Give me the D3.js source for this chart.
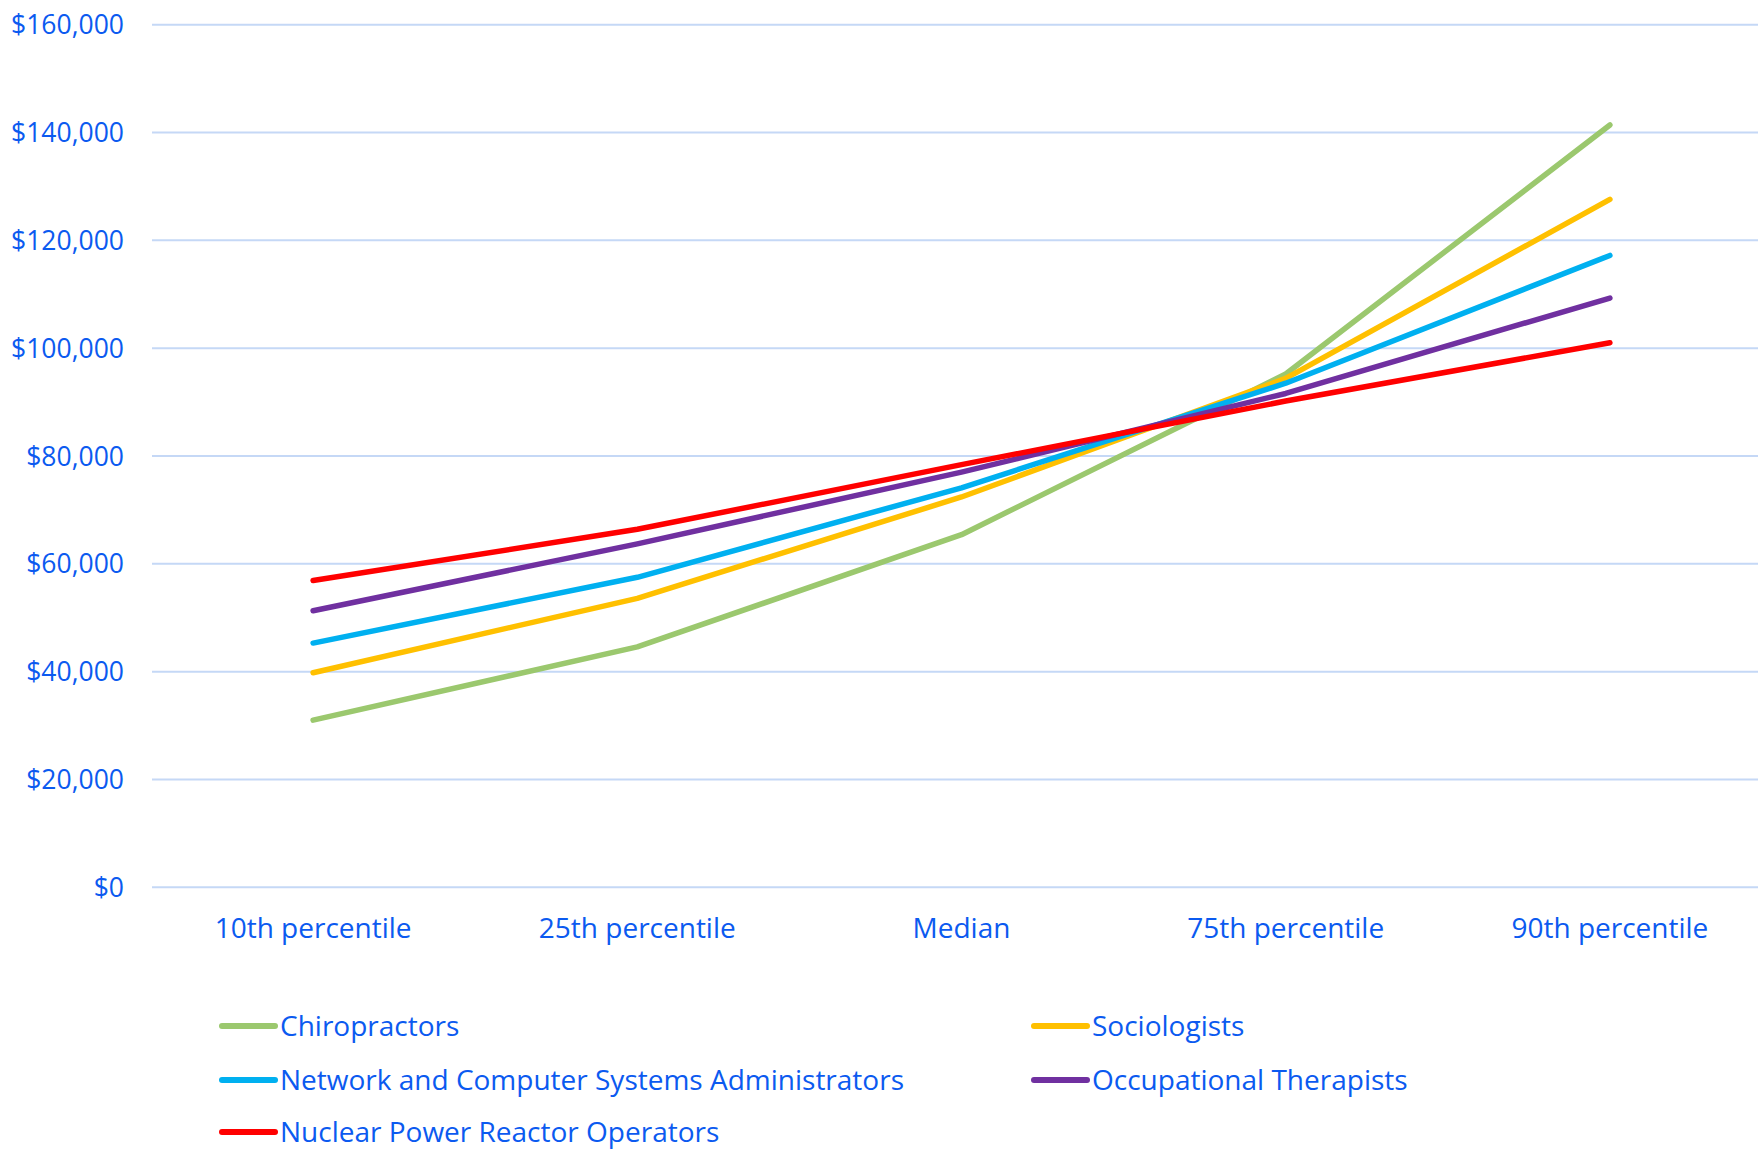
<!DOCTYPE html>
<html>
<head>
<meta charset="utf-8">
<script src="https://cdn.jsdelivr.net/npm/d3@7"></script>
<style>
  html, body { margin: 0; padding: 0; background: #ffffff; }
  svg { display: block; }
  text { font-family: "Open Sans", "Noto Sans", sans-serif; fill: #0b5af0; }
</style>
</head>
<body>
<svg id="chart" width="1758" height="1150"></svg>
<script>
// Wage percentiles by occupation (annual, USD)
const categories = ["10th percentile", "25th percentile", "Median", "75th percentile", "90th percentile"];

const seriesNames = [
  "Chiropractors",
  "Sociologists",
  "Network and Computer Systems Administrators",
  "Occupational Therapists",
  "Nuclear Power Reactor Operators"
];

const chiropractors = [31000, 44600, 65400, 95200, 141400];
const sociologists  = [39800, 53600, 72400, 94400, 127600];
const networkAdmins = [45300, 57500, 74100, 93500, 117200];
const occTherapists = [51300, 63700, 77000, 91600, 109300];
const nuclearOps    = [56900, 66400, 78400, 90200, 101000];

const yTicks = [0, 20000, 40000, 60000, 80000, 100000, 120000, 140000, 160000];

const colors = ["#9bc86e", "#ffc000", "#00b0f0", "#7030a0", "#ff0000"];

const seriesValues = [chiropractors, sociologists, networkAdmins, occTherapists, nuclearOps];
const series = seriesNames.map((name, i) => ({ name, values: seriesValues[i], color: colors[i] }));

const svg = d3.select("#chart");
svg.append("rect").attr("width", 1758).attr("height", 1150).attr("fill", "#ffffff");

// plot area (the last band runs past the right edge of the page)
const plotLeft = 151, plotRight = 1772, plotTop = 24.7, plotBottom = 887.3;

const x = d3.scaleBand().domain(categories).range([plotLeft, plotRight]).padding(0);
const y = d3.scaleLinear().domain([0, 160000]).range([plotBottom, plotTop]);

// horizontal gridlines
svg.append("g")
  .selectAll("line")
  .data(yTicks)
  .join("line")
  .attr("x1", plotLeft + 1).attr("x2", 1758)
  .attr("y1", d => y(d)).attr("y2", d => y(d))
  .attr("stroke", "#c5d8f6").attr("stroke-width", 2);

// y axis labels
const fmt = d3.format("$,.0f");
svg.append("g")
  .selectAll("text")
  .data(yTicks)
  .join("text")
  .attr("x", 124)
  .attr("y", d => y(d) + 9.5)
  .attr("text-anchor", "end")
  .attr("font-size", 26.5)
  .text(d => fmt(d));

// category labels
svg.append("g")
  .selectAll("text")
  .data(categories)
  .join("text")
  .attr("x", d => x(d) + x.bandwidth() / 2)
  .attr("y", 938)
  .attr("text-anchor", "middle")
  .attr("font-size", 28)
  .text(d => d);

// series lines
const line = d3.line()
  .x((d, i) => x(categories[i]) + x.bandwidth() / 2)
  .y(d => y(d));

svg.append("g")
  .selectAll("path")
  .data(series)
  .join("path")
  .attr("d", d => line(d.values))
  .attr("fill", "none")
  .attr("stroke", d => d.color)
  .attr("stroke-width", 5.5)
  .attr("stroke-linecap", "round")
  .attr("stroke-linejoin", "round");

// legend: two columns, row-major
const legendCols = [222, 1034];
const legendRows = [1026, 1080, 1132];
const legend = svg.append("g")
  .selectAll("g")
  .data(series)
  .join("g")
  .attr("transform", (d, i) => `translate(${legendCols[i % 2]},${legendRows[Math.floor(i / 2)]})`);

legend.append("line")
  .attr("x1", 0).attr("x2", 53)
  .attr("y1", 0).attr("y2", 0)
  .attr("stroke", d => d.color)
  .attr("stroke-width", 6)
  .attr("stroke-linecap", "round");

legend.append("text")
  .attr("x", 58)
  .attr("y", 10)
  .attr("font-size", 28)
  .text(d => d.name);
</script>
</body>
</html>
